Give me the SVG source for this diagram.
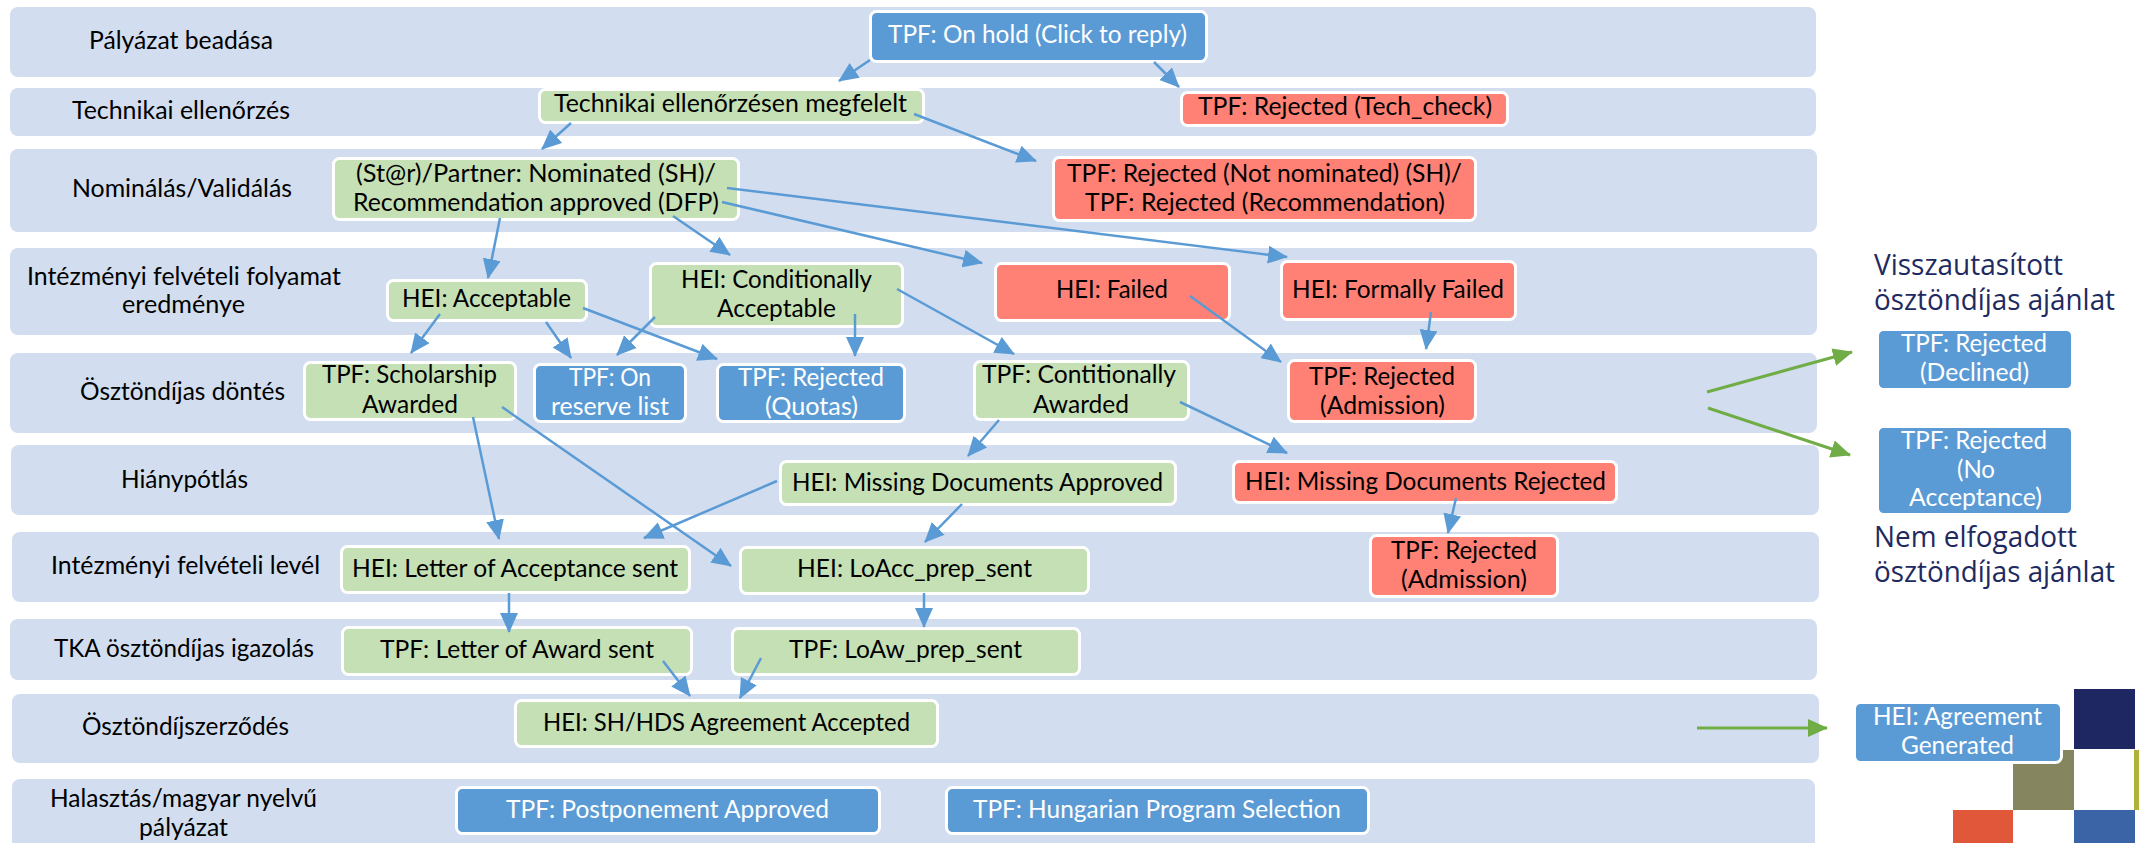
<svg xmlns="http://www.w3.org/2000/svg" width="2139" height="843" viewBox="0 0 2139 843">
<style>
text{font-family:Lato,"Liberation Sans",sans-serif;font-size:25px;fill:#000}
.w{fill:#fff}
.h{font-family:"Open Sans","Liberation Sans",sans-serif;font-size:29px;fill:#1f2a60}
.band{fill:#d2deef}
.n rect{stroke:#fff;stroke-width:3}
.g rect{fill:#c5e0b4}
.b rect{fill:#5b9bd5}
.r rect{fill:#ff8074}
.c{fill:none;stroke:#5b9bd5;stroke-width:2.5}
.c path{marker-end:url(#ab)}
.v{fill:none;stroke:#70ad47;stroke-width:3}
.v path{marker-end:url(#ag)}
</style>
<defs>
<marker id="ab" viewBox="0 0 20 18" refX="19" refY="9" markerWidth="20" markerHeight="18" markerUnits="userSpaceOnUse" orient="auto"><path d="M0 0L20 9L0 18z" fill="#5b9bd5"/></marker>
<marker id="ag" viewBox="0 0 20 18" refX="19" refY="9" markerWidth="20" markerHeight="18" markerUnits="userSpaceOnUse" orient="auto"><path d="M0 0L20 9L0 18z" fill="#70ad47"/></marker>
</defs>
<g id="decor">
<rect x="2074" y="689" width="61" height="60" fill="#1e2761"/>
<rect x="2013" y="750" width="61" height="60" fill="#85855f"/>
<rect x="2134" y="750" width="5" height="60" fill="#b0b33a"/>
<rect x="1953" y="810" width="60" height="33" fill="#e0573a"/>
<rect x="2074" y="810" width="61" height="33" fill="#3a64a5"/>
</g>
<g id="bands">
<g id="band1"><rect class="band" x="10" y="7" width="1806" height="70" rx="8"/><text x="89" y="49" textLength="184" lengthAdjust="spacingAndGlyphs">Pályázat beadása</text></g>
<g id="band2"><rect class="band" x="10" y="88" width="1806" height="48" rx="8"/><text x="72" y="119" textLength="218" lengthAdjust="spacingAndGlyphs">Technikai ellenőrzés</text></g>
<g id="band3"><rect class="band" x="10" y="149" width="1807" height="83" rx="8"/><text x="72" y="197" textLength="220" lengthAdjust="spacingAndGlyphs">Nominálás/Validálás</text></g>
<g id="band4"><rect class="band" x="10" y="248" width="1807" height="87" rx="8"/><text x="27" y="285" textLength="314" lengthAdjust="spacingAndGlyphs">Intézményi felvételi folyamat</text><text x="122" y="313" textLength="123" lengthAdjust="spacingAndGlyphs">eredménye</text></g>
<g id="band5"><rect class="band" x="10" y="353" width="1807" height="80" rx="8"/><text x="80" y="400" textLength="205" lengthAdjust="spacingAndGlyphs">Ösztöndíjas döntés</text></g>
<g id="band6"><rect class="band" x="11" y="445" width="1808" height="70" rx="8"/><text x="121" y="488" textLength="127" lengthAdjust="spacingAndGlyphs">Hiánypótlás</text></g>
<g id="band7"><rect class="band" x="12" y="532" width="1807" height="70" rx="8"/><text x="51" y="574" textLength="269" lengthAdjust="spacingAndGlyphs">Intézményi felvételi levél</text></g>
<g id="band8"><rect class="band" x="10" y="619" width="1807" height="61" rx="8"/><text x="54" y="657" textLength="260" lengthAdjust="spacingAndGlyphs">TKA ösztöndíjas igazolás</text></g>
<g id="band9"><rect class="band" x="12" y="694" width="1807" height="69" rx="8"/><text x="82" y="735" textLength="207" lengthAdjust="spacingAndGlyphs">Ösztöndíjszerződés</text></g>
<g id="band10"><rect class="band" x="12" y="779" width="1803" height="74" rx="8"/><text x="50" y="807" textLength="267" lengthAdjust="spacingAndGlyphs">Halasztás/magyar nyelvű</text><text x="139" y="836" textLength="89" lengthAdjust="spacingAndGlyphs">pályázat</text></g>
</g>
<g id="n-onhold" class="n b"><rect x="870.5" y="11.5" width="336" height="50" rx="6"/><text class="w" x="888" y="43" textLength="299" lengthAdjust="spacingAndGlyphs">TPF: On hold (Click to reply)</text></g>
<g id="n-tech" class="n g"><rect x="539.5" y="89.5" width="384" height="33" rx="6"/><text x="554" y="112" textLength="353" lengthAdjust="spacingAndGlyphs">Technikai ellenőrzésen megfelelt</text></g>
<g id="n-rejtech" class="n r"><rect x="1181.5" y="92.5" width="326" height="33" rx="6"/><text x="1198" y="115" textLength="294" lengthAdjust="spacingAndGlyphs">TPF: Rejected (Tech_check)</text></g>
<g id="n-nom" class="n g"><rect x="333.5" y="158.5" width="405" height="61" rx="6"/><text x="356" y="182" textLength="360" lengthAdjust="spacingAndGlyphs">(St@r)/Partner: Nominated (SH)/</text><text x="353" y="211" textLength="366" lengthAdjust="spacingAndGlyphs">Recommendation approved (DFP)</text></g>
<g id="n-rejnom" class="n r"><rect x="1053.5" y="157.5" width="422" height="63" rx="6"/><text x="1067" y="182" textLength="395" lengthAdjust="spacingAndGlyphs">TPF: Rejected (Not nominated) (SH)/</text><text x="1085" y="211" textLength="360" lengthAdjust="spacingAndGlyphs">TPF: Rejected (Recommendation)</text></g>
<g id="n-acc" class="n g"><rect x="387.5" y="280.5" width="199" height="40" rx="6"/><text x="402" y="307" textLength="169" lengthAdjust="spacingAndGlyphs">HEI: Acceptable</text></g>
<g id="n-cond" class="n g"><rect x="650.5" y="263.5" width="252" height="63" rx="6"/><text x="681" y="288" textLength="191" lengthAdjust="spacingAndGlyphs">HEI: Conditionally</text><text x="717" y="317" textLength="119" lengthAdjust="spacingAndGlyphs">Acceptable</text></g>
<g id="n-failed" class="n r"><rect x="995.5" y="263.5" width="234" height="57" rx="6"/><text x="1056" y="298" textLength="112" lengthAdjust="spacingAndGlyphs">HEI: Failed</text></g>
<g id="n-ffailed" class="n r"><rect x="1281.5" y="261.5" width="234" height="58" rx="6"/><text x="1292" y="298" textLength="212" lengthAdjust="spacingAndGlyphs">HEI: Formally Failed</text></g>
<g id="n-schol" class="n g"><rect x="304.5" y="362.5" width="211" height="57" rx="6"/><text x="322" y="383" textLength="175" lengthAdjust="spacingAndGlyphs">TPF: Scholarship</text><text x="362" y="413" textLength="96" lengthAdjust="spacingAndGlyphs">Awarded</text></g>
<g id="n-reserve" class="n b"><rect x="534.5" y="364.5" width="151" height="57" rx="6"/><text class="w" x="569" y="386" textLength="82" lengthAdjust="spacingAndGlyphs">TPF: On</text><text class="w" x="551" y="415" textLength="118" lengthAdjust="spacingAndGlyphs">reserve list</text></g>
<g id="n-quotas" class="n b"><rect x="717.5" y="364.5" width="187" height="57" rx="6"/><text class="w" x="738" y="386" textLength="146" lengthAdjust="spacingAndGlyphs">TPF: Rejected</text><text class="w" x="765" y="415" textLength="93" lengthAdjust="spacingAndGlyphs">(Quotas)</text></g>
<g id="n-contit" class="n g"><rect x="974.5" y="361.5" width="214" height="58" rx="6"/><text x="982" y="383" textLength="194" lengthAdjust="spacingAndGlyphs">TPF: Contitionally</text><text x="1033" y="413" textLength="96" lengthAdjust="spacingAndGlyphs">Awarded</text></g>
<g id="n-rejadm1" class="n r"><rect x="1288.5" y="360.5" width="187" height="61" rx="6"/><text x="1309" y="385" textLength="146" lengthAdjust="spacingAndGlyphs">TPF: Rejected</text><text x="1320" y="414" textLength="125" lengthAdjust="spacingAndGlyphs">(Admission)</text></g>
<g id="n-mapp" class="n g"><rect x="780.5" y="461.5" width="395" height="43" rx="6"/><text x="792" y="491" textLength="371" lengthAdjust="spacingAndGlyphs">HEI: Missing Documents Approved</text></g>
<g id="n-mrej" class="n r"><rect x="1233.5" y="461.5" width="383" height="41" rx="6"/><text x="1245" y="490" textLength="361" lengthAdjust="spacingAndGlyphs">HEI: Missing Documents Rejected</text></g>
<g id="n-loa" class="n g"><rect x="341.5" y="546.5" width="348" height="46" rx="6"/><text x="352" y="577" textLength="326" lengthAdjust="spacingAndGlyphs">HEI: Letter of Acceptance sent</text></g>
<g id="n-loacc" class="n g"><rect x="740.5" y="547.5" width="348" height="46" rx="6"/><text x="797" y="577" textLength="235" lengthAdjust="spacingAndGlyphs">HEI: LoAcc_prep_sent</text></g>
<g id="n-rejadm2" class="n r"><rect x="1370.5" y="535.5" width="187" height="61" rx="6"/><text x="1391" y="559" textLength="146" lengthAdjust="spacingAndGlyphs">TPF: Rejected</text><text x="1401" y="588" textLength="126" lengthAdjust="spacingAndGlyphs">(Admission)</text></g>
<g id="n-award" class="n g"><rect x="342.5" y="627.5" width="349" height="47" rx="6"/><text x="380" y="658" textLength="274" lengthAdjust="spacingAndGlyphs">TPF: Letter of Award sent</text></g>
<g id="n-loaw" class="n g"><rect x="732.5" y="628.5" width="347" height="46" rx="6"/><text x="789" y="658" textLength="233" lengthAdjust="spacingAndGlyphs">TPF: LoAw_prep_sent</text></g>
<g id="n-agr" class="n g"><rect x="515.5" y="700.5" width="422" height="46" rx="6"/><text x="543" y="731" textLength="367" lengthAdjust="spacingAndGlyphs">HEI: SH/HDS Agreement Accepted</text></g>
<g id="n-post" class="n b"><rect x="456.5" y="787.5" width="423" height="46" rx="6"/><text class="w" x="506" y="818" textLength="323" lengthAdjust="spacingAndGlyphs">TPF: Postponement Approved</text></g>
<g id="n-hun" class="n b"><rect x="946.5" y="787.5" width="422" height="46" rx="6"/><text class="w" x="973" y="818" textLength="368" lengthAdjust="spacingAndGlyphs">TPF: Hungarian Program Selection</text></g>
<g id="n-decl" class="n b"><rect x="1877.5" y="329.5" width="195" height="60" rx="6"/><text class="w" x="1901" y="352" textLength="146" lengthAdjust="spacingAndGlyphs">TPF: Rejected</text><text class="w" x="1920" y="381" textLength="109" lengthAdjust="spacingAndGlyphs">(Declined)</text></g>
<g id="n-noacc" class="n b"><rect x="1877.5" y="426.5" width="195" height="88" rx="6"/><text class="w" x="1901" y="449" textLength="146" lengthAdjust="spacingAndGlyphs">TPF: Rejected</text><text class="w" x="1957" y="478" textLength="38" lengthAdjust="spacingAndGlyphs">(No</text><text class="w" x="1909" y="506" textLength="133" lengthAdjust="spacingAndGlyphs">Acceptance)</text></g>
<g id="n-gen" class="n b"><rect x="1854.5" y="702.5" width="207" height="60" rx="6"/><text class="w" x="1873" y="725" textLength="169" lengthAdjust="spacingAndGlyphs">HEI: Agreement</text><text class="w" x="1901" y="754" textLength="113" lengthAdjust="spacingAndGlyphs">Generated</text></g>
<g id="notes">
<text class="h" x="1874" y="275" textLength="189" lengthAdjust="spacingAndGlyphs">Visszautasított</text>
<text class="h" x="1874" y="310" textLength="241" lengthAdjust="spacingAndGlyphs">ösztöndíjas ajánlat</text>
<text class="h" x="1874" y="547" textLength="203" lengthAdjust="spacingAndGlyphs">Nem elfogadott</text>
<text class="h" x="1874" y="582" textLength="241" lengthAdjust="spacingAndGlyphs">ösztöndíjas ajánlat</text>
</g>
<g id="connectors">
<g class="c">
<path d="M870 60L839 81"/>
<path d="M1154 62L1179 87"/>
<path d="M571 123L542 149"/>
<path d="M914 114L1036 161"/>
<path d="M727 188L1287 257"/>
<path d="M722 202L982 263"/>
<path d="M673 216L730 255"/>
<path d="M500 218L488 278"/>
<path d="M440 314L411 353"/>
<path d="M546 322L571 358"/>
<path d="M583 308L717 359"/>
<path d="M655 317L617 355"/>
<path d="M855 314L855 356"/>
<path d="M897 289L1014 354"/>
<path d="M1190 296L1281 362"/>
<path d="M1431 312L1426 349"/>
<path d="M999 420L968 456"/>
<path d="M1180 402L1287 453"/>
<path d="M473 417L499 539"/>
<path d="M502 407L731 566"/>
<path d="M777 481L644 538"/>
<path d="M962 504L925 542"/>
<path d="M1456 498L1448 533"/>
<path d="M509 593L509 632"/>
<path d="M924 593L924 627"/>
<path d="M663 661L690 696"/>
<path d="M761 658L740 698"/>
</g>
<g class="v">
<path d="M1707 392L1852 352"/>
<path d="M1708 408L1850 455"/>
<path d="M1697 728L1827 728"/>
</g>
</g>
</svg>
